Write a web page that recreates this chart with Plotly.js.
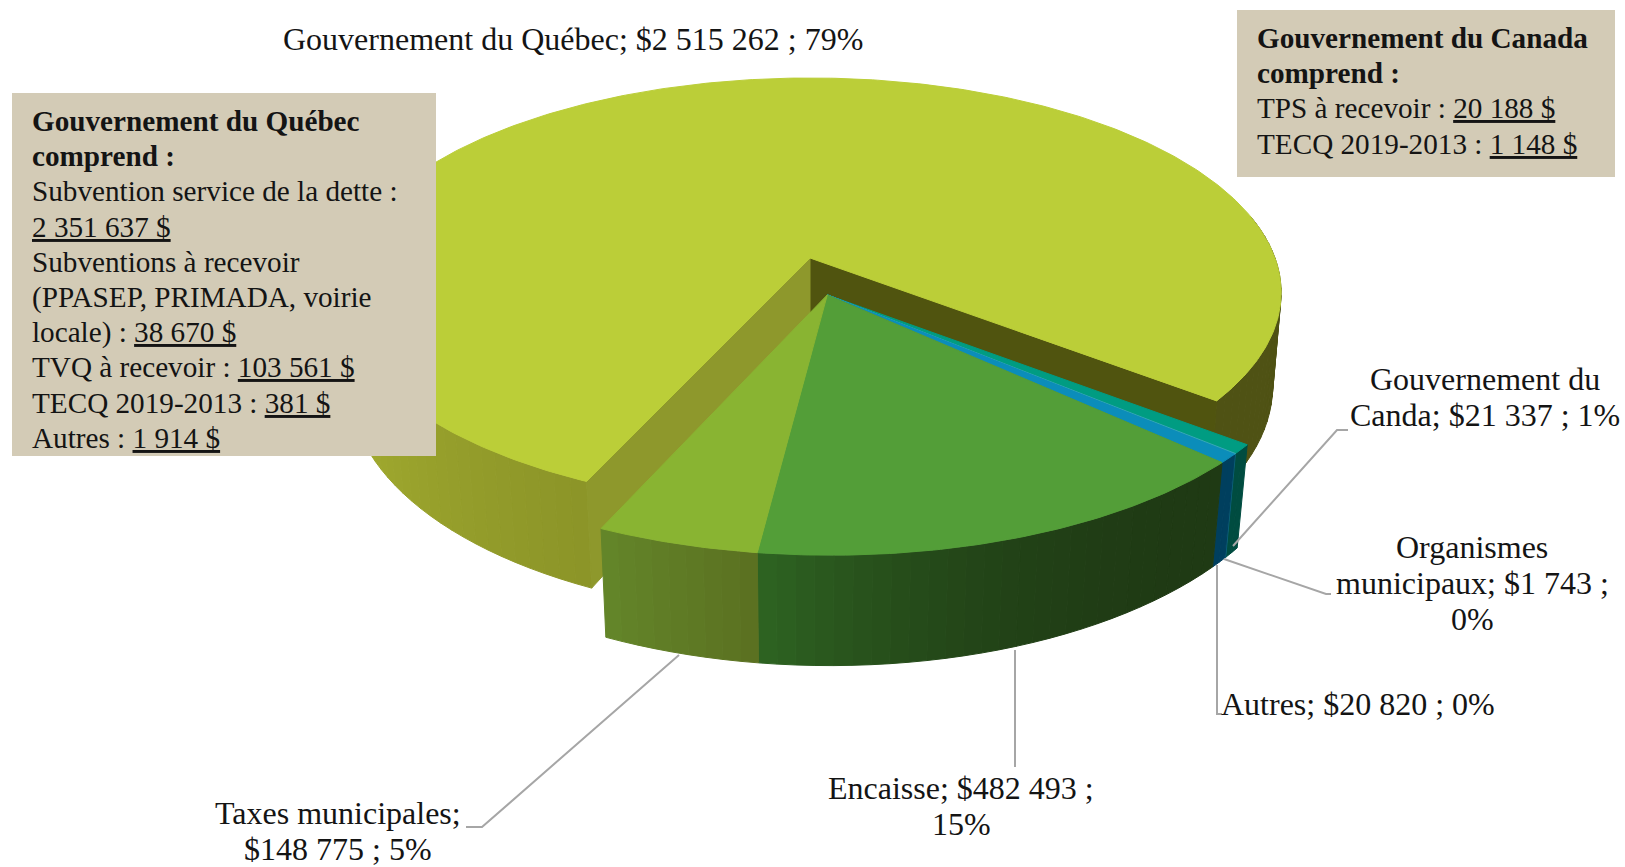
<!DOCTYPE html>
<html><head><meta charset="utf-8">
<script src="https://cdn.plot.ly/plotly-3.0.1.min.js"></script>
<style>html,body{margin:0;padding:0;background:#fff}#c{width:1625px;height:867px}</style>
</head><body><div id="c"></div>
<script>
// ---- data ----
const categories = ["Gouvernement du Québec","Gouvernement du Canda","Organismes municipaux","Autres","Encaisse","Taxes municipales"];
const values = [2515262,21337,1743,20820,482493,148775];
const quebecLines = ["<b>Gouvernement du Québec</b>","<b>comprend :</b>","Subvention service de la dette :","<u>2 351 637 $</u>","Subventions à recevoir","(PPASEP, PRIMADA, voirie","locale) : <u>38 670 $</u>","TVQ à recevoir : <u>103 561 $</u>","TECQ 2019-2013 : <u>381 $</u>","Autres : <u>1 914 $</u>"];
const canadaLines = ["<b>Gouvernement du Canada</b>","<b>comprend :</b>","TPS à recevoir : <u>20 188 $</u>","TECQ 2019-2013 : <u>1 148 $</u>"];
const labelLines = [
  ["Gouvernement du Québec; $2 515 262 ; 79%"],
  ["Gouvernement du","Canda; $21 337 ; 1%"],
  ["Organismes","municipaux; $1 743 ;","0%"],
  ["Autres; $20 820 ; 0%"],
  ["Encaisse; $482 493 ;","15%"],
  ["Taxes municipales;","$148 775 ; 5%"]
];
// ---- styling / layout ----
const topColors = ["#bbce38","#009c82","#35a8b8","#0b8dba","#539e38","#89b432"];
const sideFrom  = ["#8b9428","#004c40","#0b5f78","#003f5e","#1f3a14","#5a7020"];
const sideTo    = ["#b5be34","#004c40","#0b5f78","#003f5e","#2e6422","#64862a"];
const sidePow   = [1,1,1,1,2.5,1];
const labelPos = [[573,39,'center'],[1485,379,'center'],[1472,547,'center'],[1220,704,'left'],[961,788,'center'],[338,813,'center']];
const leaders = [
  [[1233,1337,1348],[546,430,430]],
  [[1224,1326,1331],[559,594,594]],
  [[1217,1217,1222],[565,714,714]],
  [[1015,1015],[650,767]],
  [[679,482,466],[655,827,827]]
];
const startAngle = 204.2, ex = {u:0.036,v:0.172};
const mainGeo = {A:465,B:209,K:0.161,S:0.977};
const mainRight = {A:465,B:209,K:0.161,S:0.982};
const groupGeo = {A:468,B:209,K:0.150,S:0.977};
const X0=810, Y0=258, H=91;
const total = values.reduce((a,b)=>a+b,0);
const rad = d=>d*Math.PI/180;
function proj(u,v,low,g){
  const w=1-g.K*v; let x=X0+g.A*u/w, y=Y0+g.B*v/w;
  if(low){x=X0+(x-X0)*g.S; y+=H/w;}
  return [x,y];
}
function rim(th,off,low,g){return proj(off.u+Math.sin(rad(th)),off.v-Math.cos(rad(th)),low,g);}
function arc(a,b,off,low,g){const n=Math.max(2,Math.ceil(Math.abs(b-a)/0.75));const p=[];for(let i=0;i<=n;i++)p.push(rim(a+(b-a)*i/n,off,low,g));return p;}
function hex(c){return [1,3,5].map(i=>parseInt(c.substr(i,2),16));}
function mix(a,b,t){const A=hex(a),B=hex(b);return 'rgb('+A.map((v,i)=>Math.round(v+(B[i]-v)*t)).join(',')+')';}
const traces=[];
function poly(pts,color,name){
  const x=pts.map(p=>p[0]).concat(pts[0][0]),y=pts.map(p=>p[1]).concat(pts[0][1]);
  traces.push({type:'scatter',mode:'lines',x,y,fill:'toself',fillcolor:color,line:{color:color,width:1},hoverinfo:'skip',showlegend:false,name:name||''});
}
function band(a,b,off,cA,cB,name,g,pow){
  const n=Math.max(1,Math.ceil(Math.abs(b-a)/2));
  for(let i=0;i<n;i++){
    const s=a+(b-a)*i/n,e=a+(b-a)*(i+1)/n;
    poly(arc(s,e,off,false,g).concat(arc(e,s,off,true,g)),mix(cA,cB,Math.pow((i+0.5)/n,pow||1)),name);
  }
}
// slice angles
const fr=values.map(v=>v/total*360);
let acc=startAngle; const sl=fr.map(f=>{const r=[acc,acc+f];acc+=f;return r;});
const O={u:0,v:0};
const [qs,qe]=sl[0];
// main slice: outer wall, radial walls, top
band(qs,qs+80,O,sideFrom[0],sideTo[0],categories[0],mainGeo);
band(qe-50,qe,O,"#4f5214","#4f5214",categories[0],mainRight);
poly([proj(0,0,false,mainGeo),rim(qe,O,false,mainGeo),rim(qe,O,true,mainRight),proj(0,0,true,mainGeo)],"#50540f",categories[0]);
poly([proj(0,0,false,mainGeo),rim(qs,O,false,mainGeo),rim(qs,O,true,mainGeo),proj(0,0,true,mainGeo)],"#8e982c",categories[0]);
poly([proj(0,0,false,mainGeo)].concat(arc(qs,qe,O,false,mainGeo)),topColors[0],categories[0]);
// exploded group: outer walls then tops
for(let i=1;i<values.length;i++){band(sl[i][0],sl[i][1],ex,sideFrom[i],sideTo[i],categories[i],groupGeo,sidePow[i]);}
for(let i=1;i<values.length;i++){poly([proj(ex.u,ex.v,false,groupGeo)].concat(arc(sl[i][0],sl[i][1],ex,false,groupGeo)),topColors[i],categories[i]);}
// leader lines
leaders.forEach(l=>traces.push({type:'scatter',mode:'lines',x:l[0],y:l[1],line:{color:'#a6a6a6',width:2},hoverinfo:'skip',showlegend:false}));

const FONT='"Liberation Serif","Times New Roman",serif', FS_LABEL=32, FS_BOX=29.2;
const ann=[];
function line(t,x,y,al,fs){ann.push({text:t,x,y,xref:'x',yref:'y',xanchor:al,yanchor:'middle',showarrow:false,align:al,borderpad:0,font:{family:FONT,size:fs,color:'#141414'}});}
labelLines.forEach((ls,i)=>ls.forEach((t,j)=>line(t,labelPos[i][0],labelPos[i][1]+j*35.8,labelPos[i][2],FS_LABEL)));
quebecLines.forEach((t,j)=>line(t,31,121+j*35.2,'left',FS_BOX));
canadaLines.forEach((t,j)=>line(t,1256,38+j*35.2,'left',FS_BOX));
const boxC='#d3cbb6';
const shapes=[
 {type:'rect',xref:'x',yref:'y',x0:12,x1:436,y0:93,y1:456,fillcolor:boxC,line:{width:0},layer:'above'},
 {type:'rect',xref:'x',yref:'y',x0:1237,x1:1615,y0:10,y1:177,fillcolor:boxC,line:{width:0},layer:'above'}
];
Plotly.newPlot('c',traces,{
  width:1625,height:867,margin:{l:0,r:0,t:0,b:0},paper_bgcolor:'#fff',plot_bgcolor:'#fff',
  xaxis:{range:[0,1625],visible:false,fixedrange:true},
  yaxis:{range:[867,0],visible:false,fixedrange:true},
  annotations:ann,shapes:shapes,showlegend:false
},{displayModeBar:false,staticPlot:true});
</script></body></html>
